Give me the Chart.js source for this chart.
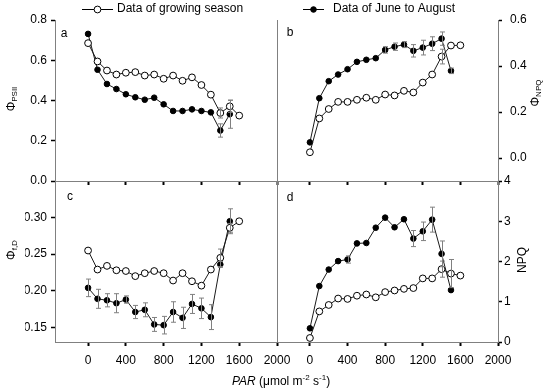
<!DOCTYPE html>
<html>
<head>
<meta charset="utf-8">
<script src="https://cdn.jsdelivr.net/npm/chart.js@4.4.0/dist/chart.umd.min.js"></script>
<style>
body { margin: 0; background: #fff; }
#wrap { position: relative; width: 550px; height: 392px; }
#wrap canvas { position: absolute; left: 0; top: 0; }
</style>
</head>
<body>
<div id="wrap">
<canvas id="pa" width="550" height="392"></canvas>
<canvas id="pb" width="550" height="392"></canvas>
<canvas id="pc" width="550" height="392"></canvas>
<canvas id="pd" width="550" height="392"></canvas>
</div>
<script>
// PAR levels
const parSeason = [0, 100, 200, 300, 400, 500, 600, 700, 800, 900, 1000, 1100, 1200, 1300, 1400, 1500, 1600];
const parSummer = [0, 100, 200, 300, 400, 500, 600, 700, 800, 900, 1000, 1100, 1200, 1300, 1400, 1500];
const xTickVals = [0, 400, 800, 1200, 1600, 2000];

// tick labels per panel
const psiiTicks = [0, 0.2, 0.4, 0.6, 0.8];
const phiNpqTicks = [0, 0.2, 0.4, 0.6];
const fdTicks = [0.15, 0.20, 0.25, 0.30];
const npqTicks = [0, 1, 2, 3, 4];

// a: PSII yield
const psiiSeason = [0.685, 0.594, 0.549, 0.529, 0.538, 0.541, 0.524, 0.529, 0.508, 0.524, 0.498, 0.515, 0.477, 0.429, 0.338, 0.371, 0.325];
const psiiSeasonErr = [0, 0, 0, 0, 0, 0, 0, 0, 0, 0, 0, 0, 0, 0, 0.025, 0.03, 0];
const psiiSummer = [0.731, 0.553, 0.482, 0.457, 0.431, 0.416, 0.404, 0.414, 0.381, 0.348, 0.348, 0.356, 0.348, 0.341, 0.251, 0.332];
const psiiSummerErr = [0, 0, 0, 0, 0, 0, 0, 0, 0, 0, 0, 0, 0, 0, 0.033, 0.07];

// b: NPQ yield
const phiNpqSeason = [0.025, 0.172, 0.213, 0.244, 0.244, 0.253, 0.262, 0.253, 0.276, 0.272, 0.292, 0.285, 0.328, 0.363, 0.441, 0.489, 0.490];
const phiNpqSeasonErr = [0, 0, 0, 0, 0, 0, 0, 0, 0, 0, 0, 0, 0, 0, 0.032, 0, 0];
const phiNpqSummer = [0.068, 0.260, 0.334, 0.363, 0.386, 0.418, 0.427, 0.434, 0.470, 0.484, 0.493, 0.466, 0.480, 0.497, 0.519, 0.379];
const phiNpqSummerErr = [0, 0, 0, 0, 0, 0, 0, 0, 0.014, 0.016, 0.013, 0.027, 0.032, 0.03, 0.029, 0.012];

// c: f,D yield
const fdSeason = [0.255, 0.229, 0.234, 0.228, 0.227, 0.220, 0.224, 0.227, 0.224, 0.214, 0.224, 0.213, 0.207, 0.229, 0.245, 0.286, 0.295];
const fdSeasonErr = [0, 0, 0, 0, 0, 0, 0, 0, 0, 0, 0, 0, 0, 0, 0.012, 0.006, 0];
const fdSummer = [0.204, 0.189, 0.187, 0.183, 0.188, 0.171, 0.174, 0.154, 0.153, 0.171, 0.163, 0.182, 0.176, 0.164, 0.236, 0.295];
const fdSummerErr = [0.012, 0.013, 0.009, 0.013, 0.005, 0.009, 0.0095, 0.0095, 0.012, 0.014, 0.0145, 0.013, 0.014, 0.017, 0.004, 0.017];

// d: NPQ
const npqSeason = [0.10, 0.76, 0.92, 1.08, 1.07, 1.15, 1.18, 1.11, 1.24, 1.28, 1.32, 1.34, 1.58, 1.58, 1.81, 1.70, 1.65];
const npqSeasonErr = [0, 0, 0, 0, 0, 0, 0, 0, 0, 0, 0, 0, 0, 0, 0.2, 0.35, 0];
const npqSummer = [0.34, 1.39, 1.80, 2.01, 2.05, 2.45, 2.46, 2.84, 3.09, 2.85, 3.05, 2.57, 2.75, 3.04, 2.19, 1.29];
const npqSummerErr = [0, 0, 0, 0, 0.09, 0, 0, 0, 0, 0, 0, 0.2, 0.23, 0.31, 0.32, 0];

const FONT = "'Liberation Sans', Arial, sans-serif";
const AXIS_GRAY = '#808080';

function drawRich(ctx, parts, cx, cy, rot) {
    ctx.save();
    ctx.translate(cx, cy);
    ctx.rotate(rot);
    ctx.textAlign = 'left';
    ctx.textBaseline = 'middle';
    ctx.fillStyle = '#000';
    const fontOf = p => (p.it ? 'italic ' : '') + ((p.sub || p.sup) ? 8 : 12) + 'px ' + FONT;
    let total = 0;
    parts.forEach(p => { ctx.font = fontOf(p); total += ctx.measureText(p.t).width; });
    let x = -total / 2;
    parts.forEach(p => {
        ctx.font = fontOf(p);
        const dy = p.sub ? 3 : (p.sup ? -4 : 0);
        ctx.fillText(p.t, x, dy);
        x += ctx.measureText(p.t).width;
    });
    ctx.restore();
}

function marker(ctx, x, y, r, filled) {
    ctx.beginPath();
    ctx.arc(x, y, r, 0, Math.PI * 2);
    ctx.fillStyle = filled ? '#000' : '#fff';
    ctx.fill();
    ctx.lineWidth = 1;
    ctx.strokeStyle = '#000';
    ctx.stroke();
}

const errorBars = {
    id: 'errorBars',
    afterDatasetsDraw(chart) {
        const ctx = chart.ctx;
        const xs = chart.scales.x, ys = chart.scales.y;
        ctx.save();
        ctx.strokeStyle = AXIS_GRAY;
        ctx.lineWidth = 1;
        chart.data.datasets.forEach(ds => {
            if (!ds.err) return;
            ds.data.forEach((pt, i) => {
                const e = ds.err[i];
                if (!e) return;
                const px = Math.round(xs.getPixelForValue(pt.x)) + 0.5;
                const top = ys.getPixelForValue(pt.y + e);
                const bot = ys.getPixelForValue(pt.y - e);
                ctx.beginPath();
                ctx.moveTo(px, top); ctx.lineTo(px, bot);
                ctx.moveTo(px - 2.5, top); ctx.lineTo(px + 2.5, top);
                ctx.moveTo(px - 2.5, bot); ctx.lineTo(px + 2.5, bot);
                ctx.stroke();
            });
        });
        ctx.restore();
    }
};

const decor = {
    id: 'decor',
    afterDraw(chart, args, opts) {
        const ctx = chart.ctx;
        const area = chart.chartArea;
        ctx.save();
        if (opts.midLine) {
            const lx = Math.round(area.left) + 0.5;
            ctx.strokeStyle = AXIS_GRAY;
            ctx.lineWidth = 1;
            ctx.beginPath();
            ctx.moveTo(lx, area.top);
            ctx.lineTo(lx, area.bottom);
            ctx.stroke();
        }
        ctx.fillStyle = '#000';
        ctx.font = '12px ' + FONT;
        ctx.textAlign = 'center';
        ctx.textBaseline = 'middle';
        ctx.fillText(opts.letter, area.left + opts.dx, area.top + opts.dy);
        drawRich(ctx, opts.title.parts, opts.title.x, opts.title.y, -Math.PI / 2);
        if (opts.legend) {
            ctx.strokeStyle = '#000';
            ctx.lineWidth = 1;
            ctx.beginPath();
            ctx.moveTo(82, 9.5); ctx.lineTo(113, 9.5);
            ctx.moveTo(303, 9.5); ctx.lineTo(324, 9.5);
            ctx.stroke();
            marker(ctx, 97.5, 9.5, 3.4, false);
            marker(ctx, 313.5, 9.5, 2.8, true);
            ctx.fillStyle = '#000';
            ctx.font = '12px ' + FONT;
            ctx.textAlign = 'left';
            ctx.fillText('Data of growing season', 117, 9);
            ctx.fillText('Data of June to August', 333, 9);
        }
        if (opts.xTitle) {
            drawRich(ctx, [
                { t: 'PAR', it: true }, { t: ' (\u03bcmol m' }, { t: '-2', sup: true },
                { t: ' s' }, { t: '-1', sup: true }, { t: ')' }
            ], 281, 382, 0);
        }
        ctx.restore();
    }
};

function xScale(showLabels) {
    return {
        type: 'linear',
        min: -350,
        max: 2000,
        afterBuildTicks: s => { s.ticks = xTickVals.map(v => ({ value: v })); },
        afterFit: s => { s.height = showLabels ? 30 : 10; },
        ticks: {
            display: showLabels, color: '#000', font: { family: FONT, size: 12 },
            padding: 7, maxRotation: 0, autoSkip: false,
            callback: v => String(v)
        },
        grid: { drawOnChartArea: false, tickLength: 4, tickWidth: 2, tickColor: '#000' },
        border: { color: AXIS_GRAY, width: 1 }
    };
}

function yScale(pos, min, max, tickVals, dec, pad) {
    return {
        type: 'linear',
        position: pos,
        min: min,
        max: max,
        afterBuildTicks: s => { s.ticks = tickVals.map(v => ({ value: v })); },
        afterFit: s => { s.width = 30; },
        ticks: {
            color: '#000',
            font: { family: FONT, size: 12 },
            padding: pad,
            callback: v => v.toFixed(dec)
        },
        grid: { drawOnChartArea: false, tickLength: 4, tickWidth: 1.5, tickColor: '#000' },
        border: { color: AXIS_GRAY, width: 1 }
    };
}

function series(xs, ys, errs, filled) {
    return {
        data: xs.map((x, i) => ({ x: x, y: ys[i] })),
        err: errs,
        borderColor: '#1a1a1a',
        borderWidth: 1,
        pointRadius: filled ? 2.8 : 3.4,
        pointBorderWidth: 1,
        pointBorderColor: '#000',
        pointBackgroundColor: filled ? '#000' : '#fff',
        fill: false,
        tension: 0
    };
}

function makePanel(id, cfg) {
    new Chart(document.getElementById(id), {
        type: 'line',
        data: {
            datasets: [
                series(cfg.xsOpen, cfg.open, cfg.openErr, false),
                series(cfg.xsFilled, cfg.filled, cfg.filledErr, true)
            ]
        },
        options: {
            responsive: false,
            animation: false,
            layout: { padding: cfg.padding },
            plugins: {
                legend: { display: false },
                tooltip: { enabled: false },
                decor: cfg.decor
            },
            scales: {
                x: xScale(cfg.xLabels),
                y: yScale(cfg.yPos, cfg.yMin, cfg.yMax, cfg.yTicks, cfg.dec, cfg.yPad)
            }
        },
        plugins: [errorBars, decor]
    });
}

makePanel('pa', {
    xsOpen: parSeason, open: psiiSeason, openErr: psiiSeasonErr,
    xsFilled: parSummer, filled: psiiSummer, filledErr: psiiSummerErr,
    padding: { left: 25, right: 273, top: 20, bottom: 201 },
    xLabels: false, yPos: 'left', yMin: 0, yMax: 0.8, yTicks: psiiTicks, dec: 1, yPad: 4,
    decor: { letter: 'a', dx: 9, dy: 14, legend: true,
        title: { parts: [{ t: '\u03a6' }, { t: 'PSII', sub: true }], x: 12, y: 99 } }
});

makePanel('pb', {
    xsOpen: parSeason, open: phiNpqSeason, openErr: phiNpqSeasonErr,
    xsFilled: parSummer, filled: phiNpqSummer, filledErr: phiNpqSummerErr,
    padding: { left: 277, right: 22, top: 20, bottom: 201 },
    xLabels: false, yPos: 'right', yMin: -0.1, yMax: 0.6, yTicks: phiNpqTicks, dec: 1, yPad: 8,
    decor: { letter: 'b', dx: 13, dy: 13, midLine: true,
        title: { parts: [{ t: '\u03a6' }, { t: 'NPQ', sub: true }], x: 536, y: 93 } }
});

makePanel('pc', {
    xsOpen: parSeason, open: fdSeason, openErr: fdSeasonErr,
    xsFilled: parSummer, filled: fdSummer, filledErr: fdSummerErr,
    padding: { left: 25, right: 273, top: 181, bottom: 20 },
    xLabels: true, yPos: 'left', yMin: 0.13, yMax: 0.35, yTicks: fdTicks, dec: 2, yPad: 4,
    decor: { letter: 'c', dx: 15, dy: 16, xTitle: true,
        title: { parts: [{ t: '\u03a6' }, { t: 'f,D', sub: true }], x: 12, y: 250 } }
});

makePanel('pd', {
    xsOpen: parSeason, open: npqSeason, openErr: npqSeasonErr,
    xsFilled: parSummer, filled: npqSummer, filledErr: npqSummerErr,
    padding: { left: 277, right: 22, top: 181, bottom: 20 },
    xLabels: true, yPos: 'right', yMin: 0, yMax: 4, yTicks: npqTicks, dec: 0, yPad: 2,
    decor: { letter: 'd', dx: 13, dy: 17, midLine: true,
        title: { parts: [{ t: 'NPQ' }], x: 523, y: 260 } }
});
</script>
</body>
</html>
